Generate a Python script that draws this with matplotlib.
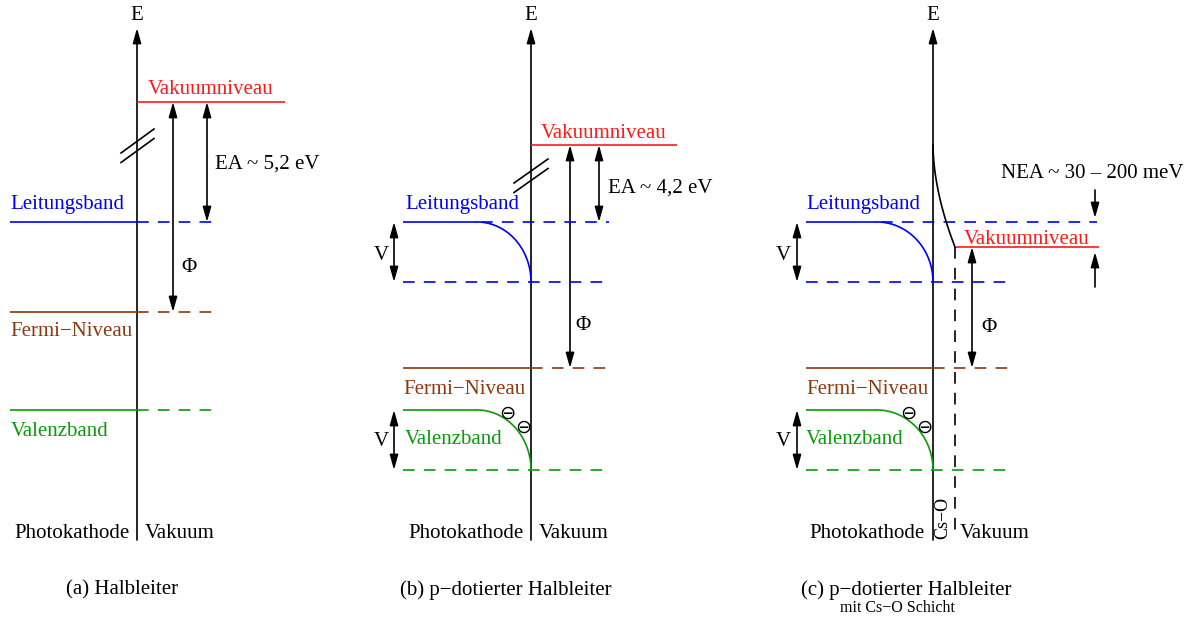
import numpy as np
import matplotlib
matplotlib.use("Agg")
import matplotlib.pyplot as plt
from matplotlib.patches import FancyArrowPatch

# ---- drawing frame: coordinates in pixel units of the 1197 x 618 canvas ----
W, H = 1197, 618

# energy axis position of each panel and label anchors
panel_axis_x = [137, 531, 933]
panel_titles = ["(a) Halbleiter", "(b) p\u2212dotierter Halbleiter", "(c) p\u2212dotierter Halbleiter"]
panel_title_x = [122, 506, 906]
subtitle_c = "mit Cs\u2212O Schicht"

# band levels (vertical position on the energy axis, top = higher energy)
vacuum_level = [102, 145, 247]
conduction_band = [222, 222, 222]
conduction_band_bent = [None, 282, 282]
fermi_level = [312, 368, 368]
valence_band = [410, 410, 410]
valence_band_bent = [None, 470, 470]
band_bend_start = [None, 477, 877]

ea_labels = ["EA ~ 5,2 eV", "EA ~ 4,2 eV", None]
nea_label = "NEA ~ 30 \u2013 200 meV"

RED = "#ff1a1a"
BLUE = "#0000ff"
BROWN = "#8b3a10"
GREEN = "#0a9a0a"
BLACK = "black"

FONT = "Liberation Serif"
FS = 15
LW = 1.2
DASH = (7, 5.5)

fig = plt.figure(figsize=(W / 100, H / 100), dpi=100)
ax = fig.add_axes([0, 0, 1, 1])
ax.set_xlim(0, W)
ax.set_ylim(H, 0)
ax.axis("off")


def txt(x, y, s, color=BLACK, size=FS, ha="left", va="center", **kw):
    ax.text(x, y, s, color=color, fontsize=size, ha=ha, va=va, family=FONT, **kw)


def arrow(x0, y0, x1, y1, style="<|-|>"):
    a = FancyArrowPatch((x0, y0), (x1, y1),
                        arrowstyle=f"{style},head_length=1.0,head_width=0.28",
                        mutation_scale=9, shrinkA=0, shrinkB=0,
                        color=BLACK, lw=LW)
    ax.add_patch(a)


def hline(y, x0, x1, color, dashed=False):
    ax.plot([x0, x1], [y, y], color=color, lw=LW,
            linestyle=(0, DASH) if dashed else "-", solid_capstyle="butt",
            dash_capstyle="butt")


def bent(x_start, x_end, y_top, y_bot, color, x_left):
    # flat band in the bulk, then a quarter-ellipse bending down at the surface
    hline(y_top, x_left, x_start, color)
    t = np.linspace(0, np.pi / 2, 80)
    xs = x_start + (x_end - x_start) * np.sin(t)
    ys = y_top + (y_bot - y_top) * (1 - np.cos(t))
    ax.plot(xs, ys, color=color, lw=LW)


def break_mark(x0, y0, x1, y1, dy=9.5):
    for k in (0, 1):
        ax.plot([x0, x1], [y0 + k * dy, y1 + k * dy], color=BLACK, lw=LW)


def minus_sign(x, y):
    ax.text(x, y, "\u2296", fontsize=14, ha="center", va="center",
            family="DejaVu Sans", color=BLACK)


for i, ax_x in enumerate(panel_axis_x):
    # energy axis
    arrow(ax_x, 540, ax_x, 28, style="-|>")
    txt(ax_x, 16, "E", ha="center", va="center")
    # bottom labels
    txt(ax_x - 7 if i < 2 else ax_x - 8, 534, "Photokathode", ha="right")
    txt(ax_x + 8 if i < 2 else 960, 534, "Vakuum", ha="left")
    txt(panel_title_x[i], 590, panel_titles[i], ha="center")

# ---------- (a) Halbleiter ----------
x = panel_axis_x[0]
hline(vacuum_level[0], x, 285, RED)
txt(148, 89, "Vakuumniveau", color=RED)
hline(conduction_band[0], 10, x, BLUE)
hline(conduction_band[0], x, 215, BLUE, dashed=True)
txt(10, 204, "Leitungsband", color=BLUE)
hline(fermi_level[0], 10, x, BROWN)
hline(fermi_level[0], x, 215, BROWN, dashed=True)
txt(10, 332, "Fermi\u2212Niveau", color=BROWN)
hline(valence_band[0], 10, x, GREEN)
hline(valence_band[0], x, 215, GREEN, dashed=True)
txt(11, 432, "Valenzband", color=GREEN)
arrow(173, vacuum_level[0], 173, fermi_level[0])
arrow(207, vacuum_level[0], 207, conduction_band[0])
txt(215, 164, ea_labels[0])
txt(181, 268, "\u03a6")
break_mark(121, 153, 154, 129)

# ---------- (b) p-dotierter Halbleiter ----------
x = panel_axis_x[1]
hline(vacuum_level[1], x, 677, RED)
txt(541, 133, "Vakuumniveau", color=RED)
bent(band_bend_start[1], x, conduction_band[1], conduction_band_bent[1], BLUE, 403)
hline(conduction_band[1], band_bend_start[1] + 4, 609, BLUE, dashed=True)
hline(conduction_band_bent[1], 403, 609, BLUE, dashed=True)
txt(405, 204, "Leitungsband", color=BLUE)
hline(fermi_level[1], 403, x, BROWN)
hline(fermi_level[1], x, 609, BROWN, dashed=True)
txt(403, 389, "Fermi\u2212Niveau", color=BROWN)
bent(band_bend_start[1], x, valence_band[1], valence_band_bent[1], GREEN, 403)
hline(valence_band_bent[1], 403, 609, GREEN, dashed=True)
txt(405, 439, "Valenzband", color=GREEN)
arrow(394, conduction_band[1], 394, conduction_band_bent[1])
arrow(394, valence_band[1], 394, valence_band_bent[1])
txt(381, 256, "V", ha="center")
txt(381, 442, "V", ha="center")
arrow(570, vacuum_level[1], 570, fermi_level[1])
arrow(599, vacuum_level[1], 599, conduction_band[1])
txt(608, 188, ea_labels[1])
txt(575, 326, "\u03a6")
break_mark(514, 183, 548, 159)
minus_sign(507, 413)
minus_sign(523, 427)

# ---------- (c) p-dotierter Halbleiter mit Cs-O Schicht ----------
x = panel_axis_x[2]
cs_x = 955
bent(band_bend_start[2], x, conduction_band[2], conduction_band_bent[2], BLUE, 806)
hline(conduction_band[2], band_bend_start[2] + 4, 1097, BLUE, dashed=True)
hline(conduction_band_bent[2], 806, 1013, BLUE, dashed=True)
txt(806, 204, "Leitungsband", color=BLUE)
hline(fermi_level[2], 806, x, BROWN)
hline(fermi_level[2], x, 1013, BROWN, dashed=True)
txt(806, 389, "Fermi\u2212Niveau", color=BROWN)
bent(band_bend_start[2], x, valence_band[2], valence_band_bent[2], GREEN, 806)
hline(valence_band_bent[2], 806, 1013, GREEN, dashed=True)
txt(806, 439, "Valenzband", color=GREEN)
arrow(797, conduction_band[2], 797, conduction_band_bent[2])
arrow(797, valence_band[2], 797, valence_band_bent[2])
txt(783, 256, "V", ha="center")
txt(783, 442, "V", ha="center")
minus_sign(908, 413)
minus_sign(924, 427)

# surface dipole: vacuum level drops across the Cs-O layer
yy = np.linspace(0, 1, 80)
ax.plot(x + (cs_x - x) * yy ** 1.8, 145 + (vacuum_level[2] - 145) * yy,
        color=BLACK, lw=LW)
hline(vacuum_level[2], cs_x, 1099, RED)
txt(964, 239, "Vakuumniveau", color=RED)
ax.plot([cs_x, cs_x], [vacuum_level[2], 537], color=BLACK, lw=LW,
        linestyle=(0, DASH))
txt(943, 518, "Cs\u2212O", ha="center", rotation=90, size=13)
arrow(972, vacuum_level[2], 972, fermi_level[2])
txt(981, 328, "\u03a6")
arrow(1095, 190, 1095, conduction_band[2] - 4, style="-|>")
arrow(1095, 287, 1095, vacuum_level[2] + 5, style="-|>")
txt(1001, 174, nea_label)
txt(897, 608, subtitle_c, ha="center", size=11.5)

fig.savefig("out.png", dpi=100)
